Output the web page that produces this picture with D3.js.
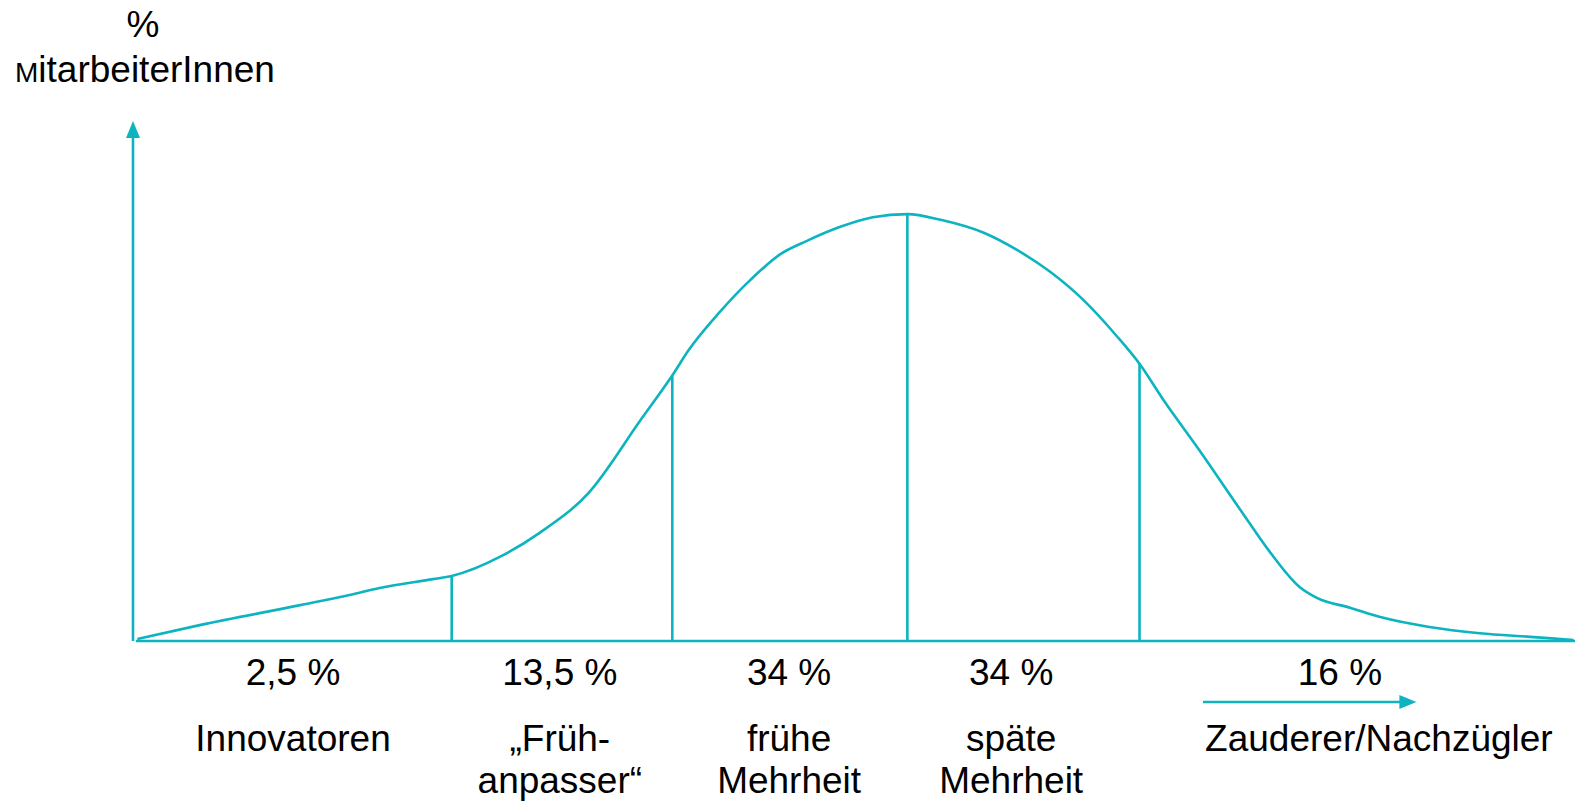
<!DOCTYPE html>
<html>
<head>
<meta charset="utf-8">
<script src="https://cdn.jsdelivr.net/npm/d3@7"></script>
<style>
    body { margin: 0; background: #fff; }
    text { font-family: "Liberation Sans", Arial, sans-serif; fill: #000; }
</style>
</head>
<body>
<svg id="chart" width="1575" height="807"></svg>
<script>
// curve of adopters (x: position along time axis 0-100, y: relative share 0-100)
const curveX = [0.3, 4.7, 11.6, 15.1, 17.1, 20.8, 22.1, 25.6, 28.2, 31.6, 35.2, 37.5, 38.5, 40.7, 42.8, 44.9, 46.7, 49.0, 51.3, 53.7, 56.0, 59.0, 61.3, 63.6, 65.9, 68.2, 69.8, 71.4, 74.0, 76.8, 78.9, 80.9, 82.1, 84.4, 86.5, 89.9, 93.4, 96.9, 99.9];
const curveY = [0.4, 3.1, 6.9, 8.9, 10.2, 11.9, 12.5, 16.4, 20.8, 28.5, 42.5, 51.5, 55.8, 63.3, 69.4, 74.4, 76.9, 79.6, 81.5, 82.1, 81.0, 78.5, 75.2, 71.0, 65.6, 58.7, 53.3, 46.6, 36.5, 25.2, 16.9, 10.4, 8.3, 6.4, 4.6, 2.7, 1.5, 0.8, 0.2];

// group boundaries on the x axis
const dividers = [22.1, 37.4, 53.7, 69.8];

// group labels
const shares = ["2,5 %", "13,5 %", "34 %", "34 %", "16 %"];
const shareX = [11.1, 29.6, 45.5, 60.9, 83.7];
const groupNames = [["Innovatoren"], ["\u201EFrüh-", "anpasser\u201C"], ["frühe", "Mehrheit"], ["späte", "Mehrheit"], ["Zauderer/Nachzügler"]];
const groupX = [11.1, 29.6, 45.5, 60.9, 86.4];

const color = "#0db4c0";
const svg = d3.select("#chart");

const x = d3.scaleLinear().domain([0, 100]).range([133, 1575]);
const y = d3.scaleLinear().domain([0, 100]).range([641, 121]);

const data = curveX.map((d, i) => ({ x: d, y: curveY[i] }));

// y axis with arrow
svg.append("line")
    .attr("x1", x(0)).attr("x2", x(0))
    .attr("y1", y(0)).attr("y2", y(100) + 14)
    .attr("stroke", color).attr("stroke-width", 2.6);
svg.append("path")
    .attr("d", `M${x(0)},${y(100)} L${x(0) - 7},${y(100) + 17} L${x(0) + 7},${y(100) + 17} Z`)
    .attr("fill", color);

// x baseline
svg.append("line")
    .attr("x1", x(0.2)).attr("x2", x(100))
    .attr("y1", y(0)).attr("y2", y(0))
    .attr("stroke", color).attr("stroke-width", 2.6);

// curve
const line = d3.line()
    .x(d => x(d.x))
    .y(d => y(d.y))
    .curve(d3.curveMonotoneX);

svg.append("path")
    .datum(data)
    .attr("d", line)
    .attr("fill", "none")
    .attr("stroke", color)
    .attr("stroke-width", 2.6);

// divider lines up to the curve
function curveAt(v) {
    for (let i = 1; i < data.length; i++) {
        if (data[i].x >= v) {
            const a = data[i - 1], b = data[i];
            return a.y + (b.y - a.y) * (v - a.x) / (b.x - a.x);
        }
    }
    return 0;
}

svg.selectAll("line.divider")
    .data(dividers)
    .enter().append("line")
    .attr("class", "divider")
    .attr("x1", d => x(d)).attr("x2", d => x(d))
    .attr("y1", y(0)).attr("y2", d => y(curveAt(d)))
    .attr("stroke", color).attr("stroke-width", 2.6);

// axis title
svg.append("text")
    .attr("x", 143).attr("y", 37)
    .attr("text-anchor", "middle")
    .attr("font-size", "37px")
    .text("%");
const title = svg.append("text")
    .attr("x", 15).attr("y", 82)
    .attr("font-size", "37px");
title.append("tspan").attr("font-size", "28px").text("M");
title.append("tspan").text("itarbeiterInnen");

// share labels
svg.selectAll("text.share")
    .data(shares)
    .enter().append("text")
    .attr("class", "share")
    .attr("x", (d, i) => x(shareX[i]))
    .attr("y", 685)
    .attr("text-anchor", "middle")
    .attr("font-size", "37px")
    .text(d => d);

// group names
groupNames.forEach((lines, i) => {
    lines.forEach((t, j) => {
        svg.append("text")
            .attr("x", x(groupX[i]))
            .attr("y", 751 + j * 42)
            .attr("text-anchor", "middle")
            .attr("font-size", "37px")
            .text(t);
    });
});

// arrow under 16 %
const ay = 702;
svg.append("line")
    .attr("x1", x(74.2)).attr("x2", x(88))
    .attr("y1", ay).attr("y2", ay)
    .attr("stroke", color).attr("stroke-width", 2.6);
svg.append("path")
    .attr("d", `M${x(89)},${ay} L${x(89) - 17},${ay - 7} L${x(89) - 17},${ay + 7} Z`)
    .attr("fill", color);
</script>
</body>
</html>
